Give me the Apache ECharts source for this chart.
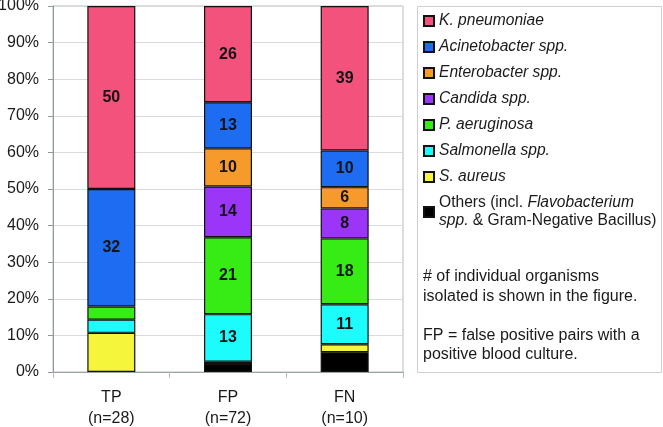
<!DOCTYPE html>
<html>
<head>
<meta charset="utf-8">
<script src="https://cdn.jsdelivr.net/npm/echarts@6/dist/echarts.min.js"></script>
<style>
html, body { margin: 0; padding: 0; background: #fff; }
#chart { width: 663px; height: 427px; }
</style>
</head>
<body>
<div id="chart"></div>
<script>
// groups on the x axis
const categories = ['TP\n(n=28)', 'FP\n(n=72)', 'FN\n(n=10)']

// percent of isolates per group, bottom of stack first
const others = [0, 2.2, 5.4]
const sAureus = [10.7, 0.6, 2.2]
const salmonella = [3.6, 13.0, 10.9]
const pAeruginosa = [3.6, 21.0, 18.0]
const candida = [0, 13.9, 8.2]
const enterobacter = [0, 10.4, 5.8]
const acinetobacter = [32.1, 12.6, 10.0]
const kPneumoniae = [50.0, 26.3, 39.5]

// numbers printed in the segments ('' = none)
const othersLabels = ['', '', '']
const sAureusLabels = ['', '', '']
const salmonellaLabels = ['', '13', '11']
const pAeruginosaLabels = ['', '21', '18']
const candidaLabels = ['', '14', '8']
const enterobacterLabels = ['', '10', '6']
const acinetobacterLabels = ['32', '13', '10']
const kPneumoniaeLabels = ['50', '26', '39']

const yTicks = [0, 10, 20, 30, 40, 50, 60, 70, 80, 90, 100]

const stackDefs = [
  { name: 'others', data: others, labels: othersLabels, color: '#000000' },
  { name: 'sAureus', data: sAureus, labels: sAureusLabels, color: '#f5f53c' },
  { name: 'salmonella', data: salmonella, labels: salmonellaLabels, color: '#1cfcfc' },
  { name: 'pAeruginosa', data: pAeruginosa, labels: pAeruginosaLabels, color: '#36ec14' },
  { name: 'candida', data: candida, labels: candidaLabels, color: '#9b35f7' },
  { name: 'enterobacter', data: enterobacter, labels: enterobacterLabels, color: '#f79a2c' },
  { name: 'acinetobacter', data: acinetobacter, labels: acinetobacterLabels, color: '#1e6cf2' },
  { name: 'kPneumoniae', data: kPneumoniae, labels: kPneumoniaeLabels, color: '#f2527b' }
]

const legendText = {
  kPneumoniae: '{i|K. pneumoniae}',
  acinetobacter: '{i|Acinetobacter spp.}',
  enterobacter: '{i|Enterobacter spp.}',
  candida: '{i|Candida spp.}',
  pAeruginosa: '{i|P. aeruginosa}',
  salmonella: '{i|Salmonella spp.}',
  sAureus: '{i|S. aureus}',
  others: '{n|Others (incl. }{i|Flavobacterium}\n{i|spp.}{n| & Gram-Negative Bacillus)}'
}

const chart = echarts.init(document.getElementById('chart'), null, { renderer: 'canvas' })

const txt = '#1a1a1a'
const font = 'Liberation Sans, Arial, sans-serif'
const legendSize = 15.6

const series = stackDefs.map(d => ({
  name: d.name,
  type: 'bar',
  stack: 'all',
  barWidth: 48,
  data: d.data.map(v => (v === 0 ? null : v)),
  itemStyle: { color: d.color, borderColor: '#111', borderWidth: 1.2 },
  label: {
    show: true,
    position: 'inside',
    formatter: p => d.labels[p.dataIndex],
    fontFamily: font,
    fontWeight: 'bold',
    fontSize: 16,
    color: '#141414'
  },
  emphasis: { disabled: true }
}))

chart.setOption({
  animation: false,
  textStyle: { fontFamily: font },
  grid: {
    left: 53,
    right: 260,
    top: 6,
    bottom: 55,
    outerBoundsMode: 'none',
    containLabel: false,
    show: true,
    borderColor: '#b4bcbc',
    borderWidth: 1
  },
  legend: {
    orient: 'vertical',
    left: 418,
    top: 8,
    itemWidth: 10,
    itemHeight: 10,
    itemGap: 10,
    icon: 'rect',
    data: stackDefs.map(d => d.name).reverse(),
    formatter: name => legendText[name],
    selectedMode: false,
    textStyle: {
      fontFamily: font,
      fontSize: legendSize,
      color: txt,
      rich: {
        i: { fontStyle: 'italic', fontSize: legendSize, fontFamily: font, color: txt, lineHeight: 18 },
        n: { fontSize: legendSize, fontFamily: font, color: txt, lineHeight: 18 }
      }
    }
  },
  graphic: [
    {
      type: 'rect',
      shape: { x: 417.5, y: 6.5, width: 244, height: 366 },
      style: { fill: 'none', stroke: '#cfcfcf', lineWidth: 1 },
      z: -1
    },
    {
      type: 'text',
      left: 423,
      top: 267,
      style: {
        text: '# of individual organisms\nisolated is shown in the figure.\n\nFP = false positive pairs with a\npositive blood culture.',
        font: '16px ' + font,
        fill: txt,
        lineHeight: 19.5
      }
    }
  ],
  xAxis: {
    type: 'category',
    data: categories,
    axisLine: { lineStyle: { color: '#9aa4a4' } },
    axisTick: { show: true, length: 6, lineStyle: { color: '#b4bcbc' } },
    axisLabel: {
      fontSize: 16,
      lineHeight: 21,
      color: txt,
      margin: 15,
      fontFamily: font
    }
  },
  yAxis: {
    type: 'value',
    min: yTicks[0],
    max: yTicks[yTicks.length - 1],
    interval: 10,
    axisLine: { show: true, lineStyle: { color: '#8f9a9c' } },
    axisTick: { show: true, length: 5, inside: false, lineStyle: { color: '#8f9a9c' } },
    splitLine: { lineStyle: { color: '#dadada' } },
    axisLabel: {
      formatter: '{value}%',
      fontSize: 16,
      color: txt,
      margin: 14,
      fontFamily: font
    }
  },
  series: series
})
</script>
</body>
</html>
